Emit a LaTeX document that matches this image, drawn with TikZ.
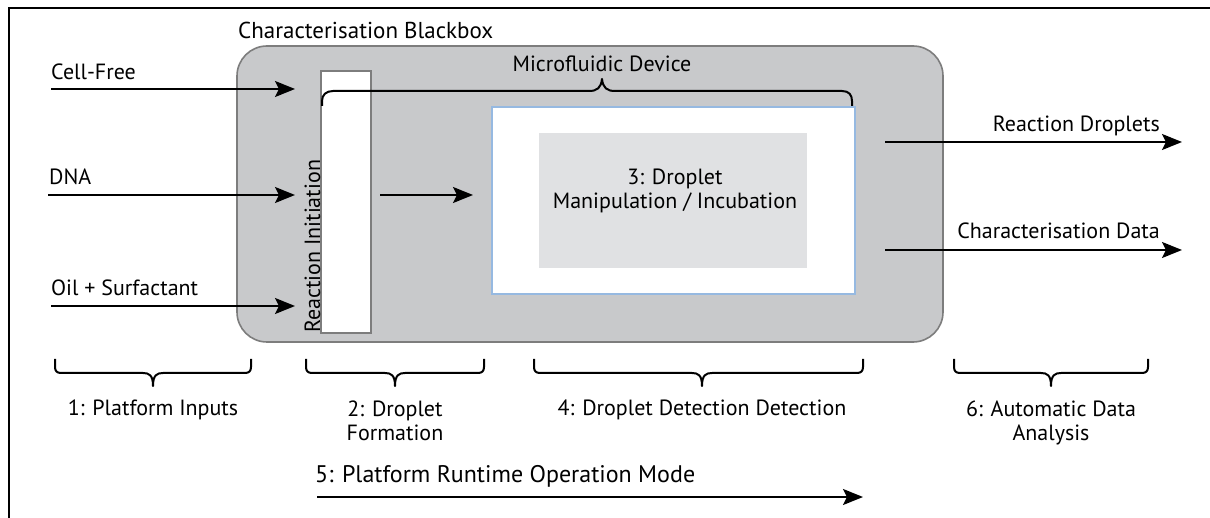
\documentclass[tikz,border=0pt]{standalone}
\usepackage{fontspec}
\setmainfont{PT Sans}
\usetikzlibrary{arrows.meta}
\definecolor{boxfill}{RGB}{200,201,203}
\definecolor{boxline}{RGB}{125,125,125}
\definecolor{innerfill}{RGB}{224,225,227}
\definecolor{deviceline}{RGB}{150,185,225}
\begin{document}
\begin{tikzpicture}[x=1pt,y=-1pt,
  txt/.style={font=\fontsize{22}{24}\selectfont, inner sep=0pt},
  flow/.style={line width=2pt, -{Stealth[length=20pt,width=16pt,inset=4pt]}},
  bracepath/.style={line width=2pt, line join=round},
  panel/.style={inner sep=0pt, outer sep=0pt},
]
\useasboundingbox (0,0) rectangle (1210,518);
\fill[white] (0,0) rectangle (1210,518);
% outer frame (top and left edges)
\draw[line width=2.2pt] (9,518) -- (9,8) -- (1210,8);

% black box
\node[txt, font=\fontsize{23}{26}\selectfont, anchor=base west] (title) at (238,39) {Characterisation Blackbox};
\node[panel, draw=boxline, fill=boxfill, line width=1.6pt, rounded corners=30pt,
      minimum width=706pt, minimum height=296pt] (blackbox) at (590,194) {};

% reaction initiation column
\node[panel, draw=boxline, fill=white, line width=1.6pt,
      minimum width=50pt, minimum height=262pt] (initiation) at (346,202) {};
\node[txt, rotate=90, anchor=base west] (initlabel) at (320,333) {Reaction Initiation};

% microfluidic device
\node[panel, draw=deviceline, fill=white, line width=1.2pt,
      minimum width=363pt, minimum height=187pt] (device) at (673.5,200.5) {};
\node[panel, fill=innerfill, minimum width=268pt, minimum height=135pt] (stage3) at (673,200.5) {};
\node[txt, align=center] (stage3label) at (675,191) {3: Droplet\\Manipulation / Incubation};

\draw[bracepath] (322,106) -- (322,101) .. controls (322,95) and (326,91) .. (333,91)
  -- (589,91) .. controls (597,91) and (601,88) .. (602,79)
  .. controls (603,88) and (607,91) .. (615,91)
  -- (842,91) .. controls (849,91) and (852,95) .. (852,101) -- (852,106);
\node[txt, anchor=base] (devicelabel) at (602,72) {Microfluidic Device};

% inputs
\coordinate (cfA) at (51,89);  \coordinate (cfB) at (295,89);
\coordinate (dnaA) at (48,195); \coordinate (dnaB) at (295,195);
\coordinate (oilA) at (51,306); \coordinate (oilB) at (295,306);
\draw[flow] (cfA) -- (cfB);
\draw[flow] (dnaA) -- (dnaB);
\draw[flow] (oilA) -- (oilB);
\node[txt, anchor=base west] (cflabel) at (51,80) {Cell-Free};
\node[txt, anchor=base west] (dnalabel) at (49,185) {DNA};
\node[txt, anchor=base west] (oillabel) at (51,296) {Oil + Surfactant};

% droplets into the device
\coordinate (midA) at (380,195); \coordinate (midB) at (473,195);
\draw[flow] (midA) -- (midB);

% outputs
\coordinate (rdA) at (885,142); \coordinate (rdB) at (1182,142);
\coordinate (cdA) at (885,250); \coordinate (cdB) at (1182,250);
\draw[flow] (rdA) -- (rdB);
\draw[flow] (cdA) -- (cdB);
\node[txt, anchor=base east] (rdlabel) at (1160,132) {Reaction Droplets};
\node[txt, anchor=base east] (cdlabel) at (1160,239) {Characterisation Data};

% stage braces
\foreach \l/\r/\t in {55/251/153, 306/484/395, 534/863/702, 954/1148/1051}{
  \draw[bracepath] (\l,359) -- (\l,367) .. controls (\l,371) and ({\l+2},373) .. ({\l+6},373)
    -- ({\t-10},373) .. controls ({\t-4},373) and (\t,375) .. (\t,386)
    .. controls (\t,375) and ({\t+4},373) .. ({\t+10},373)
    -- ({\r-6},373) .. controls ({\r-2},373) and (\r,371) .. (\r,367) -- (\r,359);
}
% two-line labels are placed by the baseline of their last line
\node[txt, anchor=base, align=center] (stage1) at (153,416) {1: Platform Inputs};
\node[txt, anchor=base, align=center] (stage2) at (395,440) {2: Droplet\\Formation};
\node[txt, anchor=base, align=center] (stage4) at (702,415) {4: Droplet Detection Detection};
\node[txt, anchor=base, align=center] (stage6) at (1051,440) {6: Automatic Data\\Analysis};

% runtime direction
\coordinate (runA) at (317,497); \coordinate (runB) at (863,497);
\draw[flow] (runA) -- (runB);
\node[txt, font=\fontsize{24}{26}\selectfont, anchor=base west] (runlabel) at (315,482) {5: Platform Runtime Operation Mode};
\end{tikzpicture}
\end{document}
